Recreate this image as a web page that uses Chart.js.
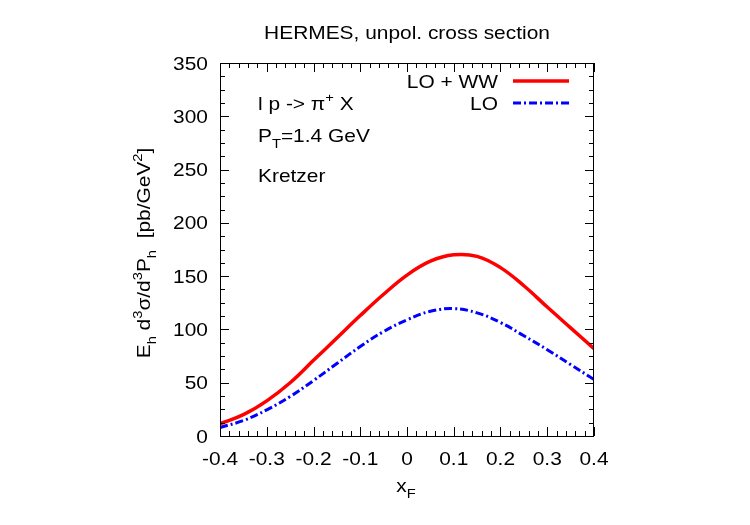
<!DOCTYPE html>
<html>
<head>
<meta charset="utf-8">
<title>HERMES, unpol. cross section</title>
<script src="https://cdn.jsdelivr.net/npm/chart.js@4.4.0/dist/chart.umd.min.js"></script>
<style>
    body { margin: 0; background: #fff; }
</style>
</head>
<body>
<canvas id="chart" width="750" height="525"></canvas>
<script>
const xF = [-0.4, -0.35, -0.3, -0.25, -0.2, -0.15, -0.1, -0.05, 0, 0.05, 0.1, 0.15, 0.2, 0.25, 0.3, 0.35, 0.4];
const loWW = [11.5, 20, 33, 50, 71, 92, 113, 133, 151, 164, 170, 168.5, 158, 141, 121, 101.5, 82];
const lo = [8, 14.5, 24.5, 37, 52, 68, 84, 98, 109, 117, 119.5, 115.5, 106.5, 94, 81, 67, 53];
const xTicks = [-0.4, -0.3, -0.2, -0.1, 0, 0.1, 0.2, 0.3, 0.4];
const yTicks = [0, 50, 100, 150, 200, 250, 300, 350];
const seriesNames = ['LO + WW', 'LO'];

const FONT = '"Liberation Sans", Arial, Helvetica, sans-serif';
const SIZE = 18.5;
const SX = 1.13; // the gnuplot text is a bit wider than Liberation Sans

function toPoints(ys) {
    return xF.map(function (x, i) { return { x: x, y: ys[i] }; });
}

function setFont(ctx, mode) {
    ctx.font = (mode === 0 ? SIZE : Math.round(SIZE * 0.7)) + 'px ' + FONT;
}

// text with sub/superscripts: parts = [[text, mode]], mode -1 sub, 1 sup
function drawRich(ctx, parts, x, y, align) {
    let w = 0;
    parts.forEach(function (p) {
        setFont(ctx, p[1]);
        w += ctx.measureText(p[0]).width;
    });
    let cx = 0;
    if (align === 'center') cx = -w / 2;
    if (align === 'right') cx = -w;
    ctx.save();
    ctx.translate(x, y);
    ctx.scale(SX, 1);
    ctx.textAlign = 'left';
    ctx.textBaseline = 'alphabetic';
    parts.forEach(function (p) {
        setFont(ctx, p[1]);
        let dy = 0;
        if (p[1] < 0) dy = SIZE * 0.3;
        if (p[1] > 0) dy = -SIZE * 0.42;
        ctx.fillText(p[0], cx, dy);
        cx += ctx.measureText(p[0]).width;
    });
    ctx.restore();
}

const framePlugin = {
    id: 'frame',
    afterDatasetsDraw: function (chart) {
        const ctx = chart.ctx;
        const a = chart.chartArea;
        const xs = chart.scales.x;
        const ys = chart.scales.y;
        ctx.save();
        ctx.strokeStyle = '#000';
        ctx.lineWidth = 1;
        ctx.strokeRect(a.left + 0.5, a.top + 0.5, a.right - a.left - 1, a.bottom - a.top);

        // inward ticks on all four sides
        ctx.beginPath();
        for (let i = 0; i <= 40; i++) {
            const px = Math.round(xs.getPixelForValue(-0.4 + i * 0.02)) + 0.5;
            const len = i % 5 === 0 ? 9 : 5;
            ctx.moveTo(px, a.bottom); ctx.lineTo(px, a.bottom - len);
            ctx.moveTo(px, a.top); ctx.lineTo(px, a.top + len);
        }
        for (let j = 0; j <= 28; j++) {
            const py = Math.round(ys.getPixelForValue(j * 12.5)) + 0.5;
            const len = j % 4 === 0 ? 9 : 5;
            ctx.moveTo(a.left, py); ctx.lineTo(a.left + len, py);
            ctx.moveTo(a.right, py); ctx.lineTo(a.right - len, py);
        }
        ctx.stroke();

        ctx.fillStyle = '#000';
        // tick labels
        xTicks.forEach(function (v) {
            drawRich(ctx, [[String(v), 0]], xs.getPixelForValue(v), 465, 'center');
        });
        yTicks.forEach(function (v) {
            drawRich(ctx, [[String(v), 0]], 208, ys.getPixelForValue(v) + 6.5, 'right');
        });

        // title
        drawRich(ctx, [['HERMES, unpol. cross section', 0]], 407, 39, 'center');

        // axis titles
        drawRich(ctx, [['x', 0], ['F', -1]], 406, 492, 'center');
        ctx.save();
        ctx.translate(150, 253);
        ctx.rotate(-Math.PI / 2);
        drawRich(ctx, [['E', 0], ['h', -1], [' d', 0], ['3', 1], ['\u03c3/d', 0], ['3', 1], ['P', 0], ['h', -1],
            ['  [pb/GeV', 0], ['2', 1], [']', 0]], 0, 0, 'center');
        ctx.restore();

        // labels in the plot
        drawRich(ctx, [['l p -> \u03c0', 0], ['+', 1], [' X', 0]], 258, 110, 'left');
        drawRich(ctx, [['P', 0], ['T', -1], ['=1.4 GeV', 0]], 258, 142, 'left');
        drawRich(ctx, [['Kretzer', 0]], 258, 182, 'left');

        // legend
        drawRich(ctx, [[seriesNames[0], 0]], 498, 88, 'right');
        drawRich(ctx, [[seriesNames[1], 0]], 498, 110, 'right');
        ctx.lineCap = 'butt';
        ctx.strokeStyle = '#ff0000';
        ctx.lineWidth = 3.5;
        ctx.beginPath(); ctx.moveTo(513, 81); ctx.lineTo(569, 81); ctx.stroke();
        ctx.strokeStyle = '#0000ff';
        ctx.lineWidth = 3;
        ctx.setLineDash([8, 3, 2, 3]);
        ctx.beginPath(); ctx.moveTo(513, 103); ctx.lineTo(569, 103); ctx.stroke();
        ctx.restore();
    }
};

new Chart(document.getElementById('chart'), {
    type: 'line',
    data: {
        datasets: [{
            label: seriesNames[0],
            data: toPoints(loWW),
            borderColor: '#ff0000',
            borderWidth: 3.5,
            pointRadius: 0,
            tension: 0.4,
            fill: false
        }, {
            label: seriesNames[1],
            data: toPoints(lo),
            borderColor: '#0000ff',
            borderWidth: 3,
            borderDash: [8, 3, 2, 3],
            pointRadius: 0,
            tension: 0.4,
            fill: false
        }]
    },
    options: {
        responsive: false,
        animation: false,
        layout: { padding: { left: 0, right: 156, top: 63, bottom: 0 } },
        plugins: { legend: { display: false }, tooltip: { enabled: false } },
        scales: {
            x: {
                type: 'linear',
                min: -0.4,
                max: 0.4,
                grid: { display: false, drawTicks: false },
                border: { display: false },
                ticks: { display: false },
                afterFit: function (scale) { scale.height = 89; }
            },
            y: {
                min: 0,
                max: 350,
                grid: { display: false, drawTicks: false },
                border: { display: false },
                ticks: { display: false },
                afterFit: function (scale) { scale.width = 220; }
            }
        }
    },
    plugins: [framePlugin]
});
</script>
</body>
</html>
